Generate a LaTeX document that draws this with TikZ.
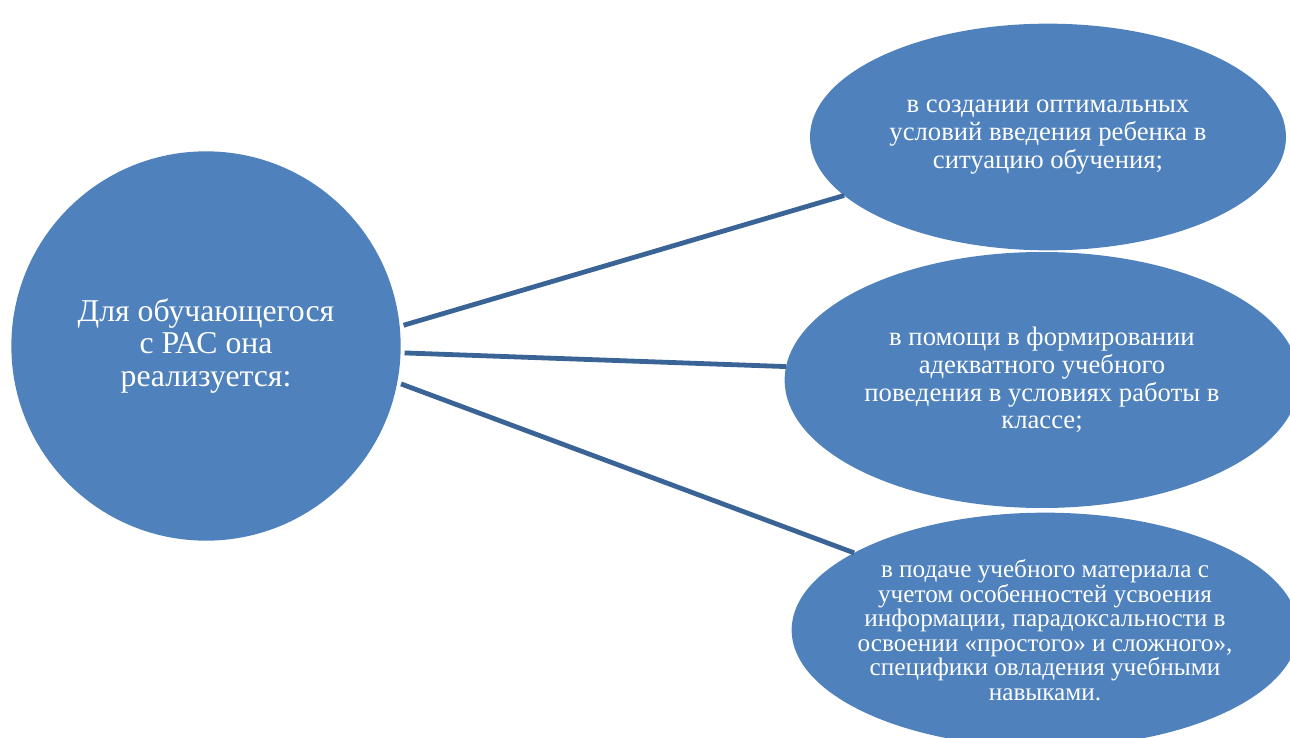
\documentclass[tikz,border=0pt]{standalone}
\usepackage{fontspec}
\setmainfont{Liberation Serif}
\usepackage{xcolor}
\usetikzlibrary{shapes.geometric, positioning, calc}

\definecolor{smartfill}{HTML}{4F81BD}
\definecolor{smartline}{HTML}{3A6496}

\tikzset{
    hub/.style={circle, fill=smartfill, text=white, inner sep=0pt, outer sep=3pt,
        minimum size=292pt, align=center, font=\fontsize{23.8}{24.5}\selectfont},
    leaf/.style={ellipse, fill=smartfill, text=white, inner sep=0pt, outer sep=0pt,
        align=center, font=\fontsize{20}{20.8}\selectfont},
    link/.style={draw=smartline, line width=3.6pt}
}

\begin{document}
\begin{tikzpicture}[x=0.75pt, y=-0.75pt]
\useasboundingbox (0,0) rectangle (1290,738);
\clip (0,0) rectangle (1290,738);

% Centre circle
\node[hub] (circ) at (206,346) {Для обучающегося\\с РАС она\\реализуется:};

% Three ellipses
\node[leaf, minimum width=357pt, minimum height=170pt] (top) at (1048,137)
    {в создании оптимальных\\условий введения ребенка в\\ситуацию обучения;};
\node[leaf, minimum width=386pt, minimum height=192pt] (mid) at (1042,380)
    {в помощи в формировании\\адекватного учебного\\поведения в условиях работы в\\классе;};
\node[leaf, inner xsep=-8pt, minimum width=380pt, minimum height=176pt,
    font=\fontsize{18.9}{18.4}\selectfont] (bot) at (1045,630)
    {в подаче учебного материала с\\учетом особенностей усвоения\\информации, парадоксальности в\\освоении «простого» и сложного»,\\специфики овладения учебными\\навыками.};

% Connectors
\draw[link] (circ.6.5) -- (top.196.4);
\draw[link] (circ.-2.5) -- (mid.177.8);
\draw[link] (circ.-11.1) -- (bot.158);

\end{tikzpicture}
\end{document}
